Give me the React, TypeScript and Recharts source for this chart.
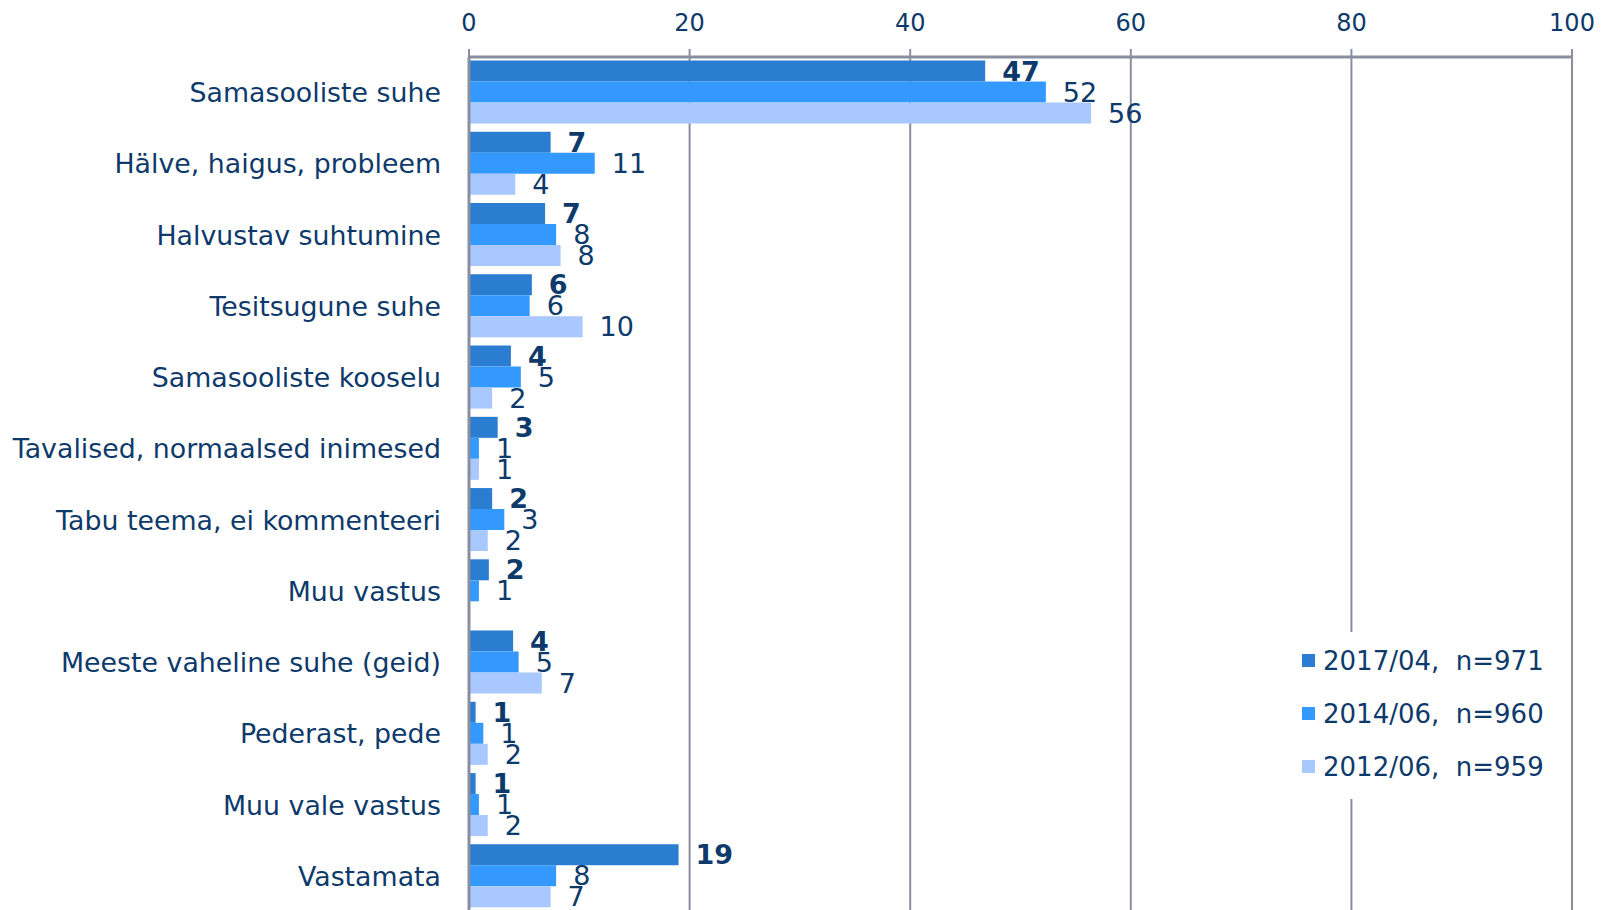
import React from "react";
import {
  BarChart,
  Bar,
  XAxis,
  YAxis,
  CartesianGrid,
  LabelList,
} from "recharts";

const categories = [
  "Samasooliste suhe",
  "Hälve, haigus, probleem",
  "Halvustav suhtumine",
  "Tesitsugune suhe",
  "Samasooliste kooselu",
  "Tavalised, normaalsed inimesed",
  "Tabu teema, ei kommenteeri",
  "Muu vastus",
  "Meeste vaheline suhe (geid)",
  "Pederast, pede",
  "Muu vale vastus",
  "Vastamata",
];

const values2017 = [46.8, 7.4, 6.9, 5.7, 3.8, 2.6, 2.1, 1.8, 4.0, 0.6, 0.6, 19.0];
const values2014 = [52.3, 11.4, 7.9, 5.5, 4.7, 0.9, 3.2, 0.9, 4.5, 1.3, 0.9, 7.9];
const values2012 = [56.4, 4.2, 8.3, 10.3, 2.1, 0.9, 1.7, 0, 6.6, 1.7, 1.7, 7.4];

const xTicks = [0, 20, 40, 60, 80, 100];

const SERIES = [
  { key: "s2017", name: "2017/04,  n=971", color: "#2B7DD2", bold: true },
  { key: "s2014", name: "2014/06,  n=960", color: "#3399FF", bold: false },
  { key: "s2012", name: "2012/06,  n=959", color: "#A8C8FF", bold: false },
];

const TEXT = "#0E3A6B";
const GRID = "#8A8FA0";
const FONT = "'DejaVu Sans', Verdana, sans-serif";

const data = categories.map((name, i) => ({
  name,
  s2017: values2017[i],
  s2014: values2014[i],
  s2012: values2012[i],
}));

const makeLabel = (bold: boolean) => (props: any) => {
  const { x, y, width, height, value } = props;
  if (!value) return null;
  return (
    <text
      x={x + width + 17}
      y={y + height / 2}
      fill={TEXT}
      fontSize={27}
      fontFamily={FONT}
      fontWeight={bold ? "bold" : "normal"}
      dominantBaseline="central"
      textAnchor="start"
    >
      {Math.round(value)}
    </text>
  );
};

// legend drawn as a plain html box on top of the chart
const ChartLegend = () => (
  <div
    style={{
      position: "absolute",
      left: 1290,
      top: 632,
      background: "#fff",
      padding: "2px 10px 6px 12px",
      fontFamily: FONT,
      fontSize: 26,
      color: TEXT,
    }}
  >
    {SERIES.map((s) => (
      <div
        key={s.key}
        style={{ display: "flex", alignItems: "center", height: 53 }}
      >
        <span
          style={{
            width: 13,
            height: 13,
            background: s.color,
            display: "inline-block",
            marginRight: 8,
          }}
        />
        <span style={{ whiteSpace: "pre" }}>{s.name}</span>
      </div>
    ))}
  </div>
);

export default function App() {
  return (
    <div
      style={{
        position: "fixed",
        left: 0,
        top: 0,
        width: 1601,
        height: 910,
        overflow: "hidden",
        background: "#fff",
      }}
    >
      <BarChart
        width={1601}
        height={912}
        data={data}
        layout="vertical"
        margin={{ top: 0, right: 29, bottom: 0, left: 0 }}
        barCategoryGap="5%"
        barGap={0}
      >
        <CartesianGrid
          horizontal={false}
          vertical={true}
          stroke={GRID}
          strokeWidth={2}
        />
        <XAxis
          type="number"
          orientation="top"
          domain={[0, 100]}
          ticks={xTicks}
          height={57}
          axisLine={{ stroke: GRID, strokeWidth: 3 }}
          tickLine={{ stroke: GRID, strokeWidth: 2 }}
          tickSize={8}
          tickMargin={18}
          tick={{ fill: TEXT, fontSize: 24, fontFamily: FONT }}
          interval={0}
        />
        <YAxis
          type="category"
          dataKey="name"
          width={469}
          axisLine={{ stroke: GRID, strokeWidth: 3 }}
          tickLine={false}
          tickSize={0}
          tickMargin={28}
          tick={{ fill: TEXT, fontSize: 26.8, fontFamily: FONT }}
          interval={0}
        />
        {SERIES.map((s) => (
          <Bar
            key={s.key}
            dataKey={s.key}
            name={s.name}
            fill={s.color}
            isAnimationActive={false}
          >
            <LabelList dataKey={s.key} content={makeLabel(s.bold)} />
          </Bar>
        ))}
      </BarChart>
      <ChartLegend />
    </div>
  );
}
